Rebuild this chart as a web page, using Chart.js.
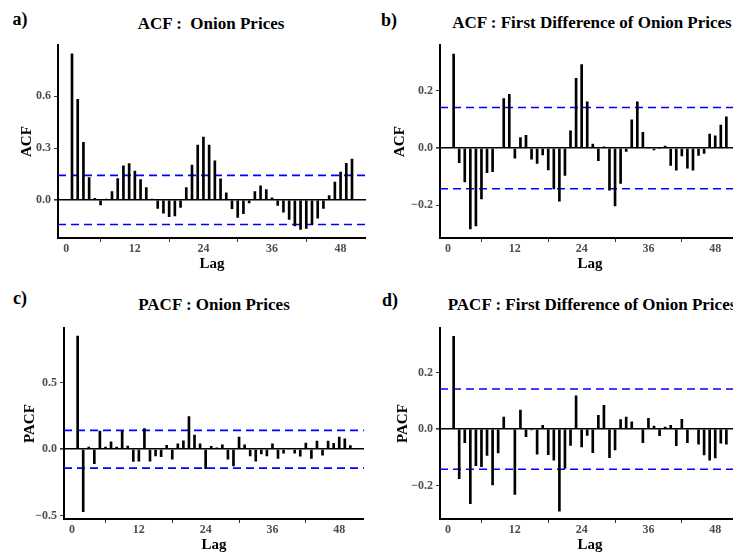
<!DOCTYPE html>
<html>
<head>
<meta charset="utf-8">
<script src="https://cdn.jsdelivr.net/npm/chart.js@4"></script>
<style>
  html, body { margin: 0; padding: 0; background: #fff; }
  body { width: 733px; height: 554px; position: relative; overflow: hidden; }
  canvas { position: absolute; }
  .lbl, .ttl {
    position: absolute; font-family: "Liberation Serif", serif; font-weight: bold;
    color: #000; white-space: pre; transform: translate(-50%, -50%);
  }
  .lbl { font-size: 18px; }
  .ttl { font-size: 17px; }
</style>
</head>
<body>
<div class="lbl" style="left:20px;top:19px">a)</div>
<div class="lbl" style="left:389px;top:20px">b)</div>
<div class="lbl" style="left:20px;top:298px">c)</div>
<div class="lbl" style="left:390px;top:300px">d)</div>

<div class="ttl" style="left:211px;top:24px">ACF :  Onion Prices</div>
<div class="ttl" style="left:592px;top:23px">ACF : First Difference of Onion Prices</div>
<div class="ttl" style="left:214px;top:305px">PACF : Onion Prices</div>
<div class="ttl" style="left:592px;top:305px">PACF : First Difference of Onion Prices</div>

<canvas id="chartA" width="366" height="242" style="left:0;top:35px"></canvas>
<canvas id="chartB" width="370" height="242" style="left:370px;top:35px"></canvas>
<canvas id="chartC" width="364" height="237" style="left:0;top:318px"></canvas>
<canvas id="chartD" width="370" height="237" style="left:370px;top:318px"></canvas>

<script>
// lags 1..50
const lags = [1, 2, 3, 4, 5, 6, 7, 8, 9, 10,
  11, 12, 13, 14, 15, 16, 17, 18, 19, 20,
  21, 22, 23, 24, 25, 26, 27, 28, 29, 30,
  31, 32, 33, 34, 35, 36, 37, 38, 39, 40,
  41, 42, 43, 44, 45, 46, 47, 48, 49, 50];

// a) ACF onion prices
const acfLevel = [0.845, 0.582, 0.333, 0.129, 0.010, -0.028, 0.002, 0.049, 0.124, 0.198,
  0.210, 0.167, 0.118, 0.071, 0.002, -0.049, -0.077, -0.097, -0.092, -0.043,
  0.071, 0.202, 0.318, 0.363, 0.318, 0.227, 0.122, 0.041, -0.051, -0.101,
  -0.079, -0.017, 0.049, 0.081, 0.060, 0.013, -0.032, -0.071, -0.112, -0.150,
  -0.170, -0.165, -0.142, -0.105, -0.049, 0.026, 0.103, 0.161, 0.212, 0.236];

// b) ACF first difference
const acfDiff = [0.329, -0.051, -0.118, -0.282, -0.272, -0.177, -0.086, -0.082, 0.003, 0.173,
  0.188, -0.035, 0.037, 0.045, -0.038, -0.053, -0.024, -0.076, -0.142, -0.185,
  -0.095, 0.061, 0.244, 0.292, 0.162, 0.014, -0.044, 0.005, -0.147, -0.202,
  -0.123, -0.011, 0.099, 0.162, 0.055, 0.001, -0.006, 0.000, 0.007, -0.060,
  -0.077, -0.027, -0.070, -0.077, -0.025, -0.018, 0.049, 0.043, 0.081, 0.110];

// c) PACF onion prices
const pacfLevel = [0.850, -0.468, 0.017, -0.109, 0.136, 0.017, 0.056, 0.017, 0.136, 0.024,
  -0.092, -0.090, 0.155, -0.090, -0.049, -0.056, 0.029, -0.075, 0.041, 0.063,
  0.245, 0.107, 0.041, -0.146, 0.022, 0.010, 0.034, -0.075, -0.126, 0.092,
  0.034, -0.049, -0.090, -0.035, -0.049, 0.041, -0.068, -0.029, 0.004, -0.029,
  -0.052, 0.046, -0.068, 0.061, -0.044, 0.061, 0.045, 0.092, 0.079, 0.028];

// d) PACF first difference
const pacfDiff = [0.328, -0.175, -0.048, -0.264, -0.129, -0.133, -0.093, -0.197, -0.084, 0.043,
  0.002, -0.231, 0.067, -0.027, -0.003, -0.089, 0.013, -0.090, -0.110, -0.290,
  -0.139, -0.058, 0.118, -0.063, -0.022, -0.083, 0.049, 0.084, -0.101, -0.074,
  0.034, 0.043, 0.026, 0.002, -0.048, 0.038, 0.011, -0.023, 0.007, 0.013,
  -0.059, 0.035, -0.048, 0.002, -0.053, -0.091, -0.110, -0.102, -0.050, -0.053];

const ciBound = 0.142;
const xTicks = [0, 12, 24, 36, 48];
const yTicksA = [0, 0.3, 0.6];
const yTicksB = [-0.2, 0, 0.2];
const yTicksC = [-0.5, 0, 0.5];
const yTicksD = [-0.2, 0, 0.2];

const X_MIN = -1.45, X_MAX = 52.45;
const serif = '"Liberation Serif", "Times New Roman", serif';

function makePanel(id, values, yTicks, yMin, yMax, yTitle, yWidth, yTitlePad, xHeight, xTitlePad) {
  const bars = lags.map((l, i) => ({ x: l, y: values[i] }));
  const ciLine = v => [{ x: X_MIN, y: v }, { x: X_MAX, y: v }];
  const dashed = v => ({
    type: 'line', data: ciLine(v), borderColor: '#0000ff', borderWidth: 1.6,
    borderDash: [8, 5], pointRadius: 0, fill: false
  });

  new Chart(document.getElementById(id), {
    type: 'bar',
    data: {
      datasets: [
        { type: 'bar', data: bars, backgroundColor: '#000', barThickness: 2, borderWidth: 0 },
        dashed(ciBound),
        dashed(-ciBound)
      ]
    },
    options: {
      responsive: false,
      animation: false,
      devicePixelRatio: 1,
      layout: { padding: { top: 4, right: 0, left: 0, bottom: 0 } },
      plugins: { legend: { display: false }, tooltip: { enabled: false } },
      scales: {
        x: {
          type: 'linear', min: X_MIN, max: X_MAX, offset: false,
          afterBuildTicks: s => { s.ticks = xTicks.map(v => ({ value: v })); },
          afterFit: s => { s.height = xHeight; },
          grid: { color: 'rgba(0,0,0,0)', tickColor: '#333', tickLength: 4, drawOnChartArea: false },
          border: { display: true, color: '#000', width: 2 },
          ticks: { color: '#4d4d4d', padding: 0, font: { family: serif, size: 12, weight: 'bold' } },
          title: { display: true, text: 'Lag', color: '#000', padding: { top: 0, bottom: xTitlePad },
                   font: { family: serif, size: 15, weight: 'bold' } }
        },
        y: {
          min: yMin, max: yMax,
          afterBuildTicks: s => { s.ticks = yTicks.map(v => ({ value: v })); },
          afterFit: s => { s.width = yWidth; },
          grid: {
            color: c => (c.tick && c.tick.value === 0) ? '#000' : 'rgba(0,0,0,0)',
            lineWidth: c => (c.tick && c.tick.value === 0) ? 1.6 : 1,
            tickColor: '#333', tickLength: 4
          },
          border: { display: true, color: '#000', width: 2 },
          ticks: {
            color: '#4d4d4d', padding: 3, font: { family: serif, size: 12, weight: 'bold' },
            callback: v => v.toFixed(1).replace('-', '\u2212')
          },
          title: { display: true, text: yTitle, color: '#000', padding: { top: yTitlePad, bottom: 0 },
                   font: { family: serif, size: 15, weight: 'bold' } }
        }
      }
    }
  });
}

makePanel('chartA', acfLevel, yTicksA, -0.22, 0.895, 'ACF', 58, 18, 39, 4);
makePanel('chartB', acfDiff, yTicksB, -0.314, 0.36, 'ACF', 70, 21, 39, 4);
makePanel('chartC', pacfLevel, yTicksC, -0.524, 0.91, 'PACF', 64, 21, 36, 1);
makePanel('chartD', pacfDiff, yTicksD, -0.318, 0.357, 'PACF', 70, 24, 36, 1);
</script>
</body>
</html>
